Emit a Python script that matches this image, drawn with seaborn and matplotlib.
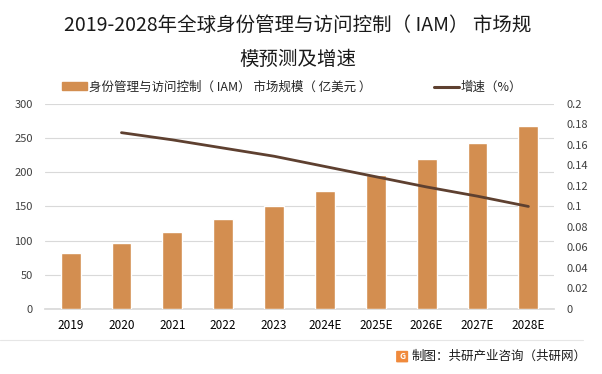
import numpy as np
import pandas as pd
import matplotlib
matplotlib.use("Agg")
import matplotlib.pyplot as plt
import matplotlib.patches as mpatches
from matplotlib.lines import Line2D
import seaborn as sns

years = ["2019", "2020", "2021", "2022", "2023", "2024E", "2025E", "2026E", "2027E", "2028E"]
market_size = [82, 97, 113, 131, 151, 172, 196, 219, 243, 268]
growth_years = ["2020", "2021", "2022", "2023", "2024E", "2025E", "2026E", "2027E", "2028E"]
growth = [0.172, 0.165, 0.157, 0.149, 0.139, 0.129, 0.119, 0.110, 0.100]

left_ticks = [0, 50, 100, 150, 200, 250, 300]
right_ticks = [0, 0.02, 0.04, 0.06, 0.08, 0.1, 0.12, 0.14, 0.16, 0.18, 0.2]
right_labels = ["0", "0.02", "0.04", "0.06", "0.08", "0.1", "0.12", "0.14", "0.16", "0.18", "0.2"]

title_1 = "2019-2028年全球身份管理与访问控制（ IAM） 市场规"
title_2 = "模预测及增速"
bar_label = "身份管理与访问控制（ IAM） 市场规模（ 亿美元 ）"
line_label = "增速（%）"
source = "制图：共研产业咨询（共研网）"

bar_color = "#D38E50"
line_color = "#5E4030"

sns.set_theme(style="white")
plt.rcParams["font.family"] = ["Noto Sans CJK SC", "DejaVu Sans"]

fig = plt.figure(figsize=(6.02, 3.74), dpi=100)
# plot area: x 45..554 px, y 104..309 px
ax = fig.add_axes([0.075, 0.174, 0.845, 0.548])

df = pd.DataFrame({"year": years, "size": market_size})
sns.barplot(data=df, x="year", y="size", color=bar_color, width=0.39,
            saturation=1, ax=ax, zorder=3)
ax.set_ylim(0, 300)
ax.set_yticks(left_ticks)
ax.set_xlim(-0.5, len(years) - 0.5)
ax.yaxis.grid(True, color="#D9D9D9", linewidth=0.8, zorder=0)
ax.set_axisbelow(True)
for s in ax.spines.values():
    s.set_visible(False)
ax.spines["bottom"].set_visible(True)
ax.spines["bottom"].set_color("#D9D9D9")
ax.set_xlabel("")
ax.set_ylabel("")
ax.tick_params(axis="y", length=0, labelsize=8, colors="#404040", pad=9)
ax.tick_params(axis="x", length=0, labelsize=8.5, colors="#000000", pad=7)

ax2 = ax.twinx()
gdf = pd.DataFrame({"pos": [years.index(y) for y in growth_years], "growth": growth})
sns.lineplot(data=gdf, x="pos", y="growth", color=line_color, linewidth=2, ax=ax2)
ax2.set_ylim(0, 0.2)
ax2.set_yticks(right_ticks)
ax2.set_yticklabels(right_labels)
ax2.set_xlim(-0.5, len(years) - 0.5)
ax2.set_ylabel("")
for s in ax2.spines.values():
    s.set_visible(False)
ax2.tick_params(axis="y", length=0, labelsize=8, colors="#404040", pad=9)

# title (two lines, as wrapped in the original)
fig.text(0.495, 0.933, title_1, ha="center", va="center", fontsize=14, color="#1a1a1a")
fig.text(0.495, 0.842, title_2, ha="center", va="center", fontsize=14, color="#1a1a1a")

handles = [mpatches.Patch(color=bar_color, label=bar_label),
           Line2D([0], [0], color=line_color, linewidth=2.2, label=line_label)]
fig.legend(handles=handles, ncol=2, loc="center left", bbox_to_anchor=(0.103, 0.767),
           frameon=False, fontsize=9, handlelength=2.0, handleheight=0.55,
           handletextpad=0.15, columnspacing=5.0, borderpad=0, borderaxespad=0)

# footer
fig.add_artist(Line2D([0.0, 0.968], [0.091, 0.091], color="#E6E6E6", linewidth=0.8))
fig.add_artist(mpatches.FancyBboxPatch((0.660, 0.033), 0.016, 0.027,
                                       boxstyle="round,pad=0.002",
                                       facecolor="#F08A3C", edgecolor="none"))
fig.text(0.668, 0.047, "G", ha="center", va="center", fontsize=6,
         fontweight="bold", color="white")
fig.text(0.975, 0.048, source, ha="right", va="center", fontsize=9, color="#1a1a1a")

fig.savefig("out.png", dpi=100)
